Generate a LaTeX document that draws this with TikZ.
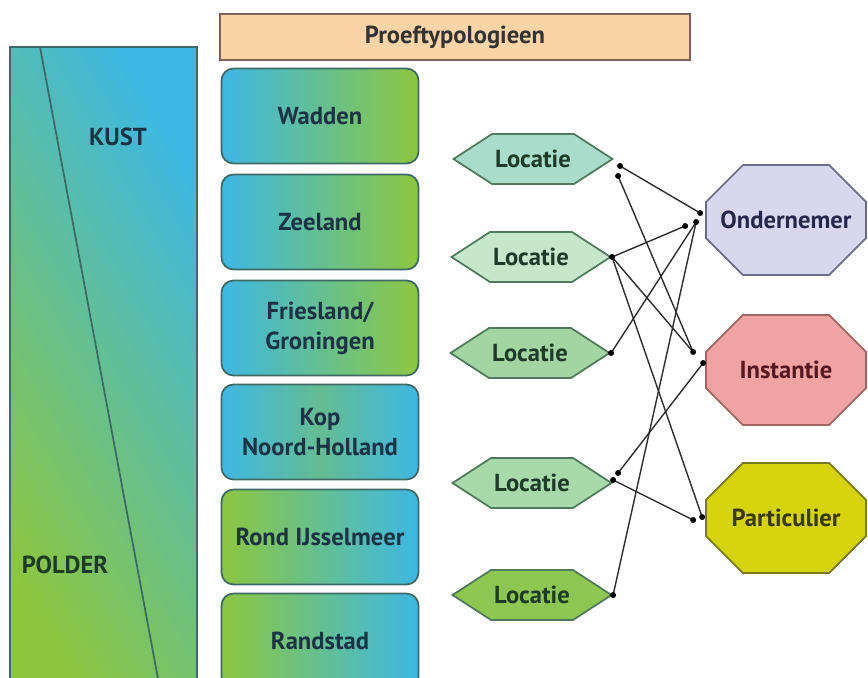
\documentclass[tikz,border=0pt]{standalone}
\usepackage{fontspec}
\setmainfont{PT Sans}
\usetikzlibrary{shapes.misc,shapes.symbols}

\definecolor{kustblue}{HTML}{3DB8E4}
\definecolor{poldergreen}{HTML}{8DC63F}
\definecolor{midteal}{HTML}{66BC92}
\definecolor{boxedge}{HTML}{3E6A66}
\definecolor{regiontext}{HTML}{1B3344}
\definecolor{peach}{HTML}{F9D4A6}
\definecolor{peachedge}{HTML}{7E6255}
\definecolor{locedge}{HTML}{4F7A5C}
\definecolor{loctext}{HTML}{1E3A28}
\definecolor{locA}{HTML}{A9DCCB}
\definecolor{locB}{HTML}{C6E7CB}
\definecolor{locC}{HTML}{A3D5A2}
\definecolor{locD}{HTML}{A8D9AA}
\definecolor{locE}{HTML}{8DC752}
\definecolor{ondfill}{HTML}{D9D7EE}
\definecolor{ondedge}{HTML}{6C6C84}
\definecolor{ondtext}{HTML}{26284A}
\definecolor{instfill}{HTML}{F0A3A3}
\definecolor{instedge}{HTML}{A36464}
\definecolor{insttext}{HTML}{551820}
\definecolor{partfill}{HTML}{D5D30C}
\definecolor{partedge}{HTML}{7B7A22}
\definecolor{parttext}{HTML}{38380E}
\definecolor{linkgray}{HTML}{2E2E2E}

\tikzset{
  region/.style={draw=boxedge, line width=1pt, rounded corners=0.24cm, minimum width=3.94cm,
    minimum height=1.9cm, align=center, text=regiontext,
    font=\fontsize{14}{17}\selectfont\bfseries},
  sealand/.style={region, left color=kustblue, right color=poldergreen},
  landsea/.style={region, left color=poldergreen, right color=kustblue},
  locatie/.style={signal, signal to=west and east, signal pointer angle=66,
    draw=locedge, line width=1pt, fill=#1, minimum width=3.18cm, minimum height=1cm,
    inner sep=0pt, text=loctext, font=\fontsize{14}{17}\selectfont\bfseries},
  actor/.style={chamfered rectangle, chamfered rectangle xsep=0.56cm,
    chamfered rectangle ysep=0.56cm, line width=1pt,
    minimum width=3.2cm, minimum height=2.2cm, inner sep=0pt,
    font=\fontsize{14}{17}\selectfont\bfseries},
  link/.style={line width=0.8pt, draw=linkgray},
  enddot/.style={fill=black}
}

\begin{document}
\begin{tikzpicture}[x=0.02cm,y=-0.02cm,line width=0.8pt]
\useasboundingbox (0,0) rectangle (868,677);
\clip (0,0) rectangle (868,677);

% kust / polder band
\shade[bottom color=poldergreen, top color=kustblue, shading angle=-60]
  (10,47) rectangle (197,700);
\draw[boxedge, line width=1pt] (10,47) rectangle (197,700);
\draw[boxedge, line width=1pt] (40,47) -- (162,700);
\node[font=\fontsize{14}{17}\selectfont\bfseries, text=regiontext] (kust) at (118,137) {KUST};
\node[font=\fontsize{14}{17}\selectfont\bfseries, text=loctext] (polder) at (65,565) {POLDER};

% header
\node[draw=peachedge, line width=1pt, fill=peach, minimum width=9.4cm, minimum height=0.92cm,
  font=\fontsize{14}{17}\selectfont\bfseries, text=black!80] (typ) at (455,37) {Proeftypologieen};

% regions
\node[sealand] (wad) at (320,116) {Wadden};
\node[sealand] (zee) at (320,222) {Zeeland};
\node[sealand] (fri) at (320,328) {Friesland/\\Groningen};
\node[region, left color=kustblue, right color=kustblue, middle color=midteal] (kop) at (320,432) {Kop\\Noord-Holland};
\node[landsea] (ijs) at (320,537) {Rond IJsselmeer};
\node[landsea] (ran) at (320,641) {Randstad};

% locaties
\node[locatie=locA] (l1) at (533,159) {Locatie};
\node[locatie=locB] (l2) at (531,257) {Locatie};
\node[locatie=locC] (l3) at (530,353) {Locatie};
\node[locatie=locD] (l4) at (532,483) {Locatie};
\node[locatie=locE] (l5) at (532,595) {Locatie};

% actoren
\node[actor, draw=ondedge, fill=ondfill, text=ondtext] (ond) at (786,220) {Ondernemer};
\node[actor, draw=instedge, fill=instfill, text=insttext] (inst) at (786,370) {Instantie};
\node[actor, draw=partedge, fill=partfill, text=parttext] (part) at (786,518) {Particulier};

% line ends
\coordinate (l1a) at ([shift={(6,7)}]l1.east);
\coordinate (l1b) at ([shift={(4,17)}]l1.east);
\coordinate (l4a) at ([shift={(5,-10)}]l4.east);
\coordinate (l4b) at ([shift={(0,-3)}]l4.east);
\coordinate (o1) at ([shift={(-5,-7)}]ond.west);
\coordinate (o2) at ([shift={(-20,6)}]ond.west);
\coordinate (o3) at ([shift={(-9,2)}]ond.west);
\coordinate (i1) at ([shift={(-12,-18)}]inst.west);
\coordinate (i2) at ([shift={(-2,-7)}]inst.west);
\coordinate (p1) at ([shift={(-12,2)}]part.west);
\coordinate (p2) at ([shift={(-3,-1)}]part.west);

\draw[link] (l1a) -- (o1);
\draw[link] (l1b) -- (i1);
\draw[link] (l2.east) -- (o2);
\draw[link] (l2.east) -- (i1);
\draw[link] (l2.east) -- (p2);
\draw[link] (l3.east) -- (o3);
\draw[link] (l4a) -- (i2);
\draw[link] (l4b) -- (p1);
\draw[link] (l5.east) -- (o3);

\foreach \p in {l1a,l1b,l2.east,l3.east,l4a,l4b,l5.east,o1,o2,o3,i1,i2,p1,p2}
  \fill[enddot] (\p) circle[radius=1.7pt];

\end{tikzpicture}
\end{document}
